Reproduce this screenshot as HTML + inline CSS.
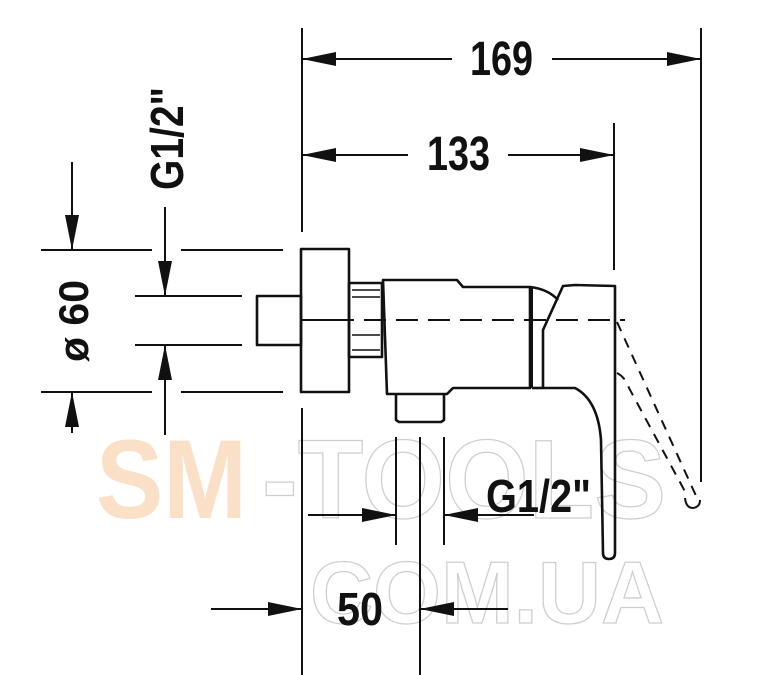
<!DOCTYPE html>
<html><head><meta charset="utf-8"><style>html,body{margin:0;padding:0;background:#fff}svg{display:block}</style></head>
<body>
<svg width="761" height="675" viewBox="0 0 761 675" xmlns="http://www.w3.org/2000/svg">
<g font-family="Liberation Sans, sans-serif" font-weight="bold">
<text x="96" y="518" font-size="112" fill="#f9e0c6" textLength="151" lengthAdjust="spacingAndGlyphs">SM</text>
<text x="262" y="518" font-size="112" fill="none" stroke="#cfcfcf" stroke-width="1.3" textLength="404" lengthAdjust="spacingAndGlyphs">-TOOLS</text>
<text x="310" y="623" font-size="88" fill="none" stroke="#cfcfcf" stroke-width="1.3" textLength="354" lengthAdjust="spacingAndGlyphs">COM.UA</text>
</g>
<g stroke="#111" stroke-width="2" fill="none">
<!-- extension lines -->
<line x1="302" y1="28" x2="302" y2="232"/>
<line x1="302" y1="408" x2="302" y2="675"/>
<line x1="701" y1="28" x2="701" y2="482"/>
<line x1="614" y1="123" x2="614" y2="270"/>
<line x1="72" y1="162" x2="72" y2="250"/>
<line x1="72" y1="392" x2="72" y2="433"/>
<line x1="41" y1="250" x2="152" y2="250"/><line x1="181" y1="250" x2="283" y2="250"/>
<line x1="41" y1="392" x2="152" y2="392"/><line x1="181" y1="392" x2="283" y2="392"/>
<line x1="165" y1="207" x2="165" y2="296"/>
<line x1="165" y1="345" x2="165" y2="435"/>
<line x1="135" y1="296" x2="242" y2="296"/>
<line x1="135" y1="345" x2="242" y2="345"/>
<line x1="396" y1="437" x2="396" y2="545"/>
<line x1="444" y1="437" x2="444" y2="545"/>
<line x1="420" y1="437" x2="420" y2="675"/>
<!-- dim lines -->
<line x1="302" y1="59" x2="452" y2="59"/><line x1="552" y1="59" x2="701" y2="59"/>
<line x1="302" y1="155" x2="408" y2="155"/><line x1="508" y1="155" x2="614" y2="155"/>
<line x1="308" y1="515" x2="396" y2="515"/><line x1="444" y1="515" x2="534" y2="515"/>
<line x1="211" y1="609" x2="302" y2="609"/><line x1="420" y1="609" x2="508" y2="609"/>
</g>
<g fill="#111">
<polygon points="302,59 336,52 336,66"/><polygon points="701,59 667,52 667,66"/>
<polygon points="302,155 336,148 336,162"/><polygon points="614,155 580,148 580,162"/>
<polygon points="72,250 65,215 79,215"/><polygon points="72,392 65,427 79,427"/>
<polygon points="165,296 158,261 172,261"/><polygon points="165,345 158,380 172,380"/>
<polygon points="396,515 362,508 362,522"/><polygon points="444,515 478,508 478,522"/>
<polygon points="302,609 268,602 268,616"/><polygon points="420,609 454,602 454,616"/>
</g>
<g font-family="Liberation Sans, sans-serif" font-weight="bold" fill="#111" font-size="48">
<text x="470" y="75" textLength="63" lengthAdjust="spacingAndGlyphs">169</text>
<text x="427" y="170" textLength="63" lengthAdjust="spacingAndGlyphs">133</text>
<text x="486" y="512" font-size="46" textLength="105" lengthAdjust="spacingAndGlyphs">G1/2"</text>
<text x="337" y="625" font-size="46" textLength="46" lengthAdjust="spacingAndGlyphs">50</text>
<text transform="translate(183,190) rotate(-90)" font-size="46" textLength="103" lengthAdjust="spacingAndGlyphs">G1/2"</text>
<text transform="translate(88,362) rotate(-90)" font-size="42" textLength="82" lengthAdjust="spacingAndGlyphs">ø 60</text>
</g>
<g stroke="#111" stroke-width="2.6" fill="none" stroke-linejoin="round">
<rect x="257" y="296" width="44" height="49"/>
<rect x="301" y="249" width="48" height="143"/>
<line x1="301" y1="320" x2="349" y2="320" stroke-width="2"/>
<rect x="349" y="283" width="33" height="74"/>
<line x1="352" y1="290" x2="380" y2="290" stroke-width="1.5"/>
<line x1="352" y1="297" x2="380" y2="297" stroke-width="1.5"/>
<line x1="352" y1="335" x2="380" y2="335" stroke-width="1.5"/>
<line x1="352" y1="350" x2="380" y2="350" stroke-width="1.5"/>
<path d="M383,280 L457,280 L463,287 L530,287 L530,388 L453,388 L447,394 L387,394 Z"/>
<path d="M396,394 L396,420 L399,422 L441,422 L444,420 L444,394"/>
<path d="M530,287 Q548,289 558,300"/>
<line x1="532" y1="287" x2="532" y2="388" stroke-width="2"/>
<path d="M563,286 L575,285 L615,286 L615,553 Q615,559 609,559 Q603,559 603,553 L601,440 Q598,400 575,388 L543,388 L543,330 Z"/>
<path d="M532,388 L543,388"/>
</g>
<line x1="300" y1="320" x2="625" y2="320" stroke="#111" stroke-width="2" stroke-dasharray="22,10"/>
<g stroke="#111" stroke-width="2" fill="none" stroke-dasharray="10,8">
<line x1="617" y1="322" x2="697" y2="498"/>
<path d="M617,373 Q625,377 629,388 L688,497"/>
</g>
<path d="M685,498 Q686,508 693,508 Q700,507 700,500" stroke="#111" stroke-width="2" fill="none"/>
</svg>
</body></html>
